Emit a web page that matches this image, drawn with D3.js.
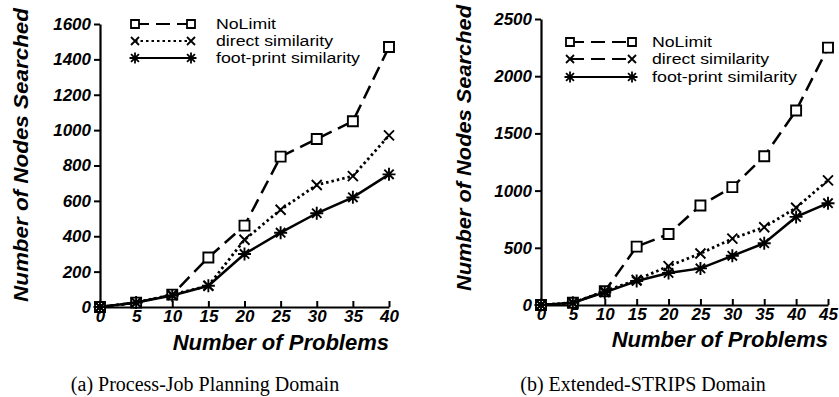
<!DOCTYPE html>
<html>
<head>
<meta charset="utf-8">
<script src="https://cdn.jsdelivr.net/npm/d3@7"></script>
<style>
  body { margin: 0; background: #fff; }
  svg { display: block; }
</style>
</head>
<body>
<svg id="chart" width="839" height="397"></svg>
<script>
// x values (number of problems)
const problemsA = [0, 5, 10, 15, 20, 25, 30, 35, 40];
const problemsB = [0, 5, 10, 15, 20, 25, 30, 35, 40, 45];

// (a) Process-Job Planning Domain
const noLimitA   = [0, 25, 70, 280, 460, 850, 950, 1050, 1470];
const directA    = [0, 25, 70, 120, 380, 550, 690, 740, 970];
const footprintA = [0, 25, 65, 120, 300, 420, 530, 620, 750];

// (b) Extended-STRIPS Domain
const noLimitB   = [0, 20, 120, 510, 620, 870, 1030, 1300, 1700, 2250];
const directB    = [0, 20, 120, 220, 340, 450, 580, 680, 850, 1090];
const footprintB = [0, 20, 110, 210, 280, 320, 430, 540, 770, 890];

const yTicksA = [0, 200, 400, 600, 800, 1000, 1200, 1400, 1600];
const yTicksB = [0, 500, 1000, 1500, 2000, 2500];

const seriesNames = ['NoLimit', 'direct similarity', 'foot-print similarity'];

const svg = d3.select('#chart');
const sans = 'Liberation Sans, Arial, sans-serif';

function markerPath(type, s) {
  const h = s / 2;
  if (type === 'square') {
    return `M${-h},${-h}H${h}V${h}H${-h}Z`;
  }
  if (type === 'cross') {
    return `M${-h},${-h}L${h},${h}M${-h},${h}L${h},${-h}`;
  }
  // asterisk
  const d = h * 0.72;
  return `M${-h},0H${h}M0,${-h}V${h}M${-d},${-d}L${d},${d}M${-d},${d}L${d},${-d}`;
}

const styles = [
  {dash: '14,7', marker: 'square', size: 10},
  {dash: '2.5,3', marker: 'cross', size: 10},
  {dash: null, marker: 'asterisk', size: 13},
];

function drawPanel(cfg) {
  const g = svg.append('g');
  const x = d3.scaleLinear().domain(cfg.xDomain).range(cfg.xRange);
  const y = d3.scaleLinear().domain(cfg.yDomain).range(cfg.yRange);

  // x axis: ticks pointing up into the plot
  const xAxis = g.append('g')
    .attr('transform', `translate(0,${cfg.yRange[0]})`)
    .call(d3.axisBottom(x).tickValues(cfg.problems).tickFormat(d3.format('d'))
      .tickSizeInner(-6).tickSizeOuter(0).tickPadding(5));
  xAxis.select('.domain').attr('stroke-width', 2.2);
  xAxis.selectAll('.tick line').attr('stroke-width', 2);
  xAxis.selectAll('.tick text')
    .attr('font-family', sans)
    .attr('font-weight', 'bold').attr('font-style', 'italic')
    .attr('font-size', 17).attr('dy', '0.72em').attr('y', 3);

  const yAxis = g.append('g')
    .attr('transform', `translate(${cfg.xRange[0]},0)`)
    .call(d3.axisLeft(y).tickValues(cfg.yTicks).tickFormat(d3.format('d'))
      .tickSizeInner(6).tickSizeOuter(0).tickPadding(3));
  yAxis.select('.domain').attr('stroke-width', 2.2);
  yAxis.selectAll('.tick line').attr('stroke-width', 2);
  yAxis.selectAll('.tick text')
    .attr('font-family', sans)
    .attr('font-weight', 'bold').attr('font-style', 'italic')
    .attr('font-size', 17);
  yAxis.selectAll('.tick').filter(d => d === 0).select('line').remove();

  // axis titles
  g.append('text')
    .attr('x', cfg.xRange[1]).attr('y', cfg.xTitleY)
    .attr('text-anchor', 'end')
    .attr('font-family', sans)
    .attr('font-weight', 'bold').attr('font-style', 'italic').attr('font-size', 22)
    .text('Number of Problems');

  g.append('text')
    .attr('transform', `translate(${cfg.yTitleX},${cfg.yTitleY}) rotate(-90)`)
    .attr('text-anchor', 'middle')
    .attr('font-family', sans)
    .attr('font-weight', 'bold').attr('font-style', 'italic').attr('font-size', 21)
    .attr('textLength', cfg.yTitleLen).attr('lengthAdjust', 'spacingAndGlyphs')
    .text('Number of Nodes Searched');

  // caption
  g.append('text')
    .attr('x', cfg.captionX).attr('y', 391)
    .attr('text-anchor', 'middle')
    .attr('font-family', 'Liberation Serif, Times New Roman, serif')
    .attr('font-size', 20)
    .text(cfg.caption);

  // series
  cfg.series.forEach((vals, i) => {
    const st = cfg.plotStyles[i];
    const pts = cfg.problems.map((p, j) => [p, vals[j]]);
    g.append('path')
      .datum(pts)
      .attr('fill', 'none').attr('stroke', '#000')
      .attr('stroke-width', i === 1 ? 2.8 : 2.5)
      .attr('stroke-dasharray', st.dash)
      .attr('d', d3.line().x(d => x(d[0])).y(d => y(d[1])));
    g.selectAll(null).data(pts).join('path')
      .attr('transform', d => `translate(${x(d[0])},${y(d[1])})`)
      .attr('d', markerPath(st.marker, st.size))
      .attr('fill', st.marker === 'square' ? '#fff' : 'none')
      .attr('stroke', '#000').attr('stroke-width', 1.9);
  });

  // legend
  const lg = g.append('g');
  seriesNames.forEach((name, i) => {
    const st = cfg.legendStyles[i];
    const ly = cfg.legendY[i];
    const x0 = cfg.legendX[0], x1 = cfg.legendX[1];
    lg.append('line')
      .attr('x1', x0).attr('x2', x1).attr('y1', ly).attr('y2', ly)
      .attr('stroke', '#000').attr('stroke-width', 2.2)
      .attr('stroke-dasharray', st.dash);
    [x0, x1].forEach(mx => {
      lg.append('path')
        .attr('transform', `translate(${mx},${ly})`)
        .attr('d', markerPath(st.marker, st.marker === 'square' ? 8 : st.size - 2))
        .attr('fill', st.marker === 'square' ? '#fff' : 'none')
        .attr('stroke', '#000').attr('stroke-width', 1.8);
    });
    lg.append('text')
      .attr('x', cfg.legendTextX).attr('y', ly).attr('dy', '0.35em')
      .attr('font-family', sans)
      .attr('font-size', 15.5)
      .attr('textLength', cfg.legendLens[i]).attr('lengthAdjust', 'spacingAndGlyphs')
      .text(name);
  });
}

drawPanel({
  problems: problemsA,
  series: [noLimitA, directA, footprintA],
  xDomain: [0, 40], xRange: [100, 389],
  yDomain: [0, 1600], yRange: [307, 24],
  yTicks: yTicksA,
  xTitleY: 350,
  yTitleX: 28, yTitleY: 155, yTitleLen: 294,
  caption: '(a) Process-Job Planning Domain', captionX: 205,
  plotStyles: styles,
  legendStyles: styles,
  legendX: [135, 191], legendY: [24, 41, 58], legendTextX: 216,
  legendLens: [60, 117, 144],
});

drawPanel({
  problems: problemsB,
  series: [noLimitB, directB, footprintB],
  xDomain: [0, 45], xRange: [541, 828],
  yDomain: [0, 2500], yRange: [305, 19],
  yTicks: yTicksB,
  xTitleY: 347,
  yTitleX: 471, yTitleY: 148, yTitleLen: 286,
  caption: '(b) Extended-STRIPS Domain', captionX: 643,
  plotStyles: styles,
  legendStyles: [styles[0], {dash: '14,7', marker: 'cross', size: 10}, styles[2]],
  legendX: [570, 632], legendY: [42, 59, 77], legendTextX: 652,
  legendLens: [60, 117, 145],
});
</script>
</body>
</html>
